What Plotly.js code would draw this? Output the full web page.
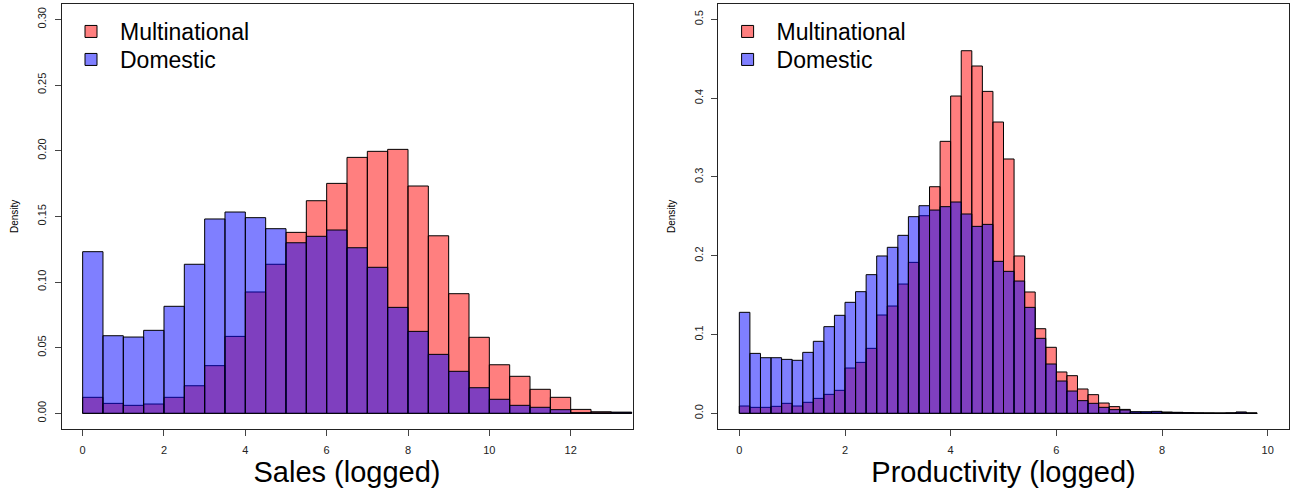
<!DOCTYPE html>
<html><head><meta charset="utf-8">
<script src="https://cdn.plot.ly/plotly-3.0.1.min.js"></script>
<style>html,body{margin:0;padding:0;background:#fff}#chart{width:1291px;height:491px}</style>
</head><body><div id="chart"></div>
<script>
// Sales (logged): bin centres, bin width 0.5
const salesBins = [0.25,0.75,1.25,1.75,2.25,2.75,3.25,3.75,4.25,4.75,5.25,5.75,6.25,6.75,7.25,7.75,8.25,8.75,9.25,9.75,10.25,10.75,11.25,11.75,12.25,12.75,13.25];
const salesMultinational = [0.0122,0.0076,0.0061,0.0071,0.0122,0.0210,0.0363,0.0586,0.0924,0.1135,0.1378,0.1619,0.1751,0.1949,0.1995,0.2010,0.1731,0.1352,0.0911,0.0579,0.0370,0.0282,0.0183,0.0122,0.0030,0.0012,0.0008];
const salesDomestic = [0.1231,0.0591,0.0581,0.0632,0.0815,0.1135,0.1480,0.1533,0.1490,0.1406,0.1299,0.1348,0.1396,0.1261,0.1112,0.0807,0.0624,0.0449,0.0320,0.0195,0.0107,0.0061,0.0046,0.0028,0.0005,0.0004,0.0008];

// Productivity (logged): bin centres, bin width 0.2
const prodBins = [0.1,0.3,0.5,0.7,0.9,1.1,1.3,1.5,1.7,1.9,2.1,2.3,2.5,2.7,2.9,3.1,3.3,3.5,3.7,3.9,4.1,4.3,4.5,4.7,4.9,5.1,5.3,5.5,5.7,5.9,6.1,6.3,6.5,6.7,6.9,7.1,7.3,7.5,7.7,7.9,8.1,8.3,8.5,8.7,8.9,9.1,9.3,9.5,9.7];
const prodMultinational = [0.0093,0.0076,0.0076,0.0089,0.0127,0.0093,0.0140,0.0190,0.0241,0.0292,0.0575,0.0647,0.0825,0.1248,0.1362,0.1641,0.1916,0.2508,0.2876,0.3452,0.4027,0.4602,0.4408,0.4086,0.3697,0.3228,0.1997,0.1540,0.1074,0.0838,0.0525,0.0478,0.0309,0.0237,0.0131,0.0085,0.0050,0.0015,0.0012,0.0015,0.0017,0.0012,0.0008,0.0005,0.0004,0.0003,0.0005,0.0015,0.0004];
const prodDomestic = [0.1282,0.0761,0.0706,0.0706,0.0685,0.0673,0.0774,0.0914,0.1100,0.1244,0.1409,0.1544,0.1760,0.1997,0.2107,0.2259,0.2496,0.2635,0.2580,0.2623,0.2682,0.2530,0.2373,0.2398,0.1929,0.1802,0.1679,0.1345,0.0952,0.0626,0.0410,0.0283,0.0161,0.0127,0.0076,0.0047,0.0042,0.0021,0.0021,0.0025,0.0010,0.0012,0.0008,0.0005,0.0004,0.0003,0.0005,0.0015,0.0004];

const salesTicks = [0,2,4,6,8,10,12];
const prodTicks = [0,2,4,6,8,10];
const salesYTicks = [0,0.05,0.10,0.15,0.20,0.25,0.30];
const salesYLabels = ['0.00','0.05','0.10','0.15','0.20','0.25','0.30'];
const prodYTicks = [0,0.1,0.2,0.3,0.4,0.5];
const prodYLabels = ['0.0','0.1','0.2','0.3','0.4','0.5'];

const RED = 'rgba(255,0,0,0.5)', BLUE = 'rgba(0,0,255,0.5)';
const line = {color:'#000', width:1};
const traces = [
  {type:'bar', x:salesBins, y:salesMultinational, width:0.5, name:'Multinational', marker:{color:RED, line:line}, xaxis:'x', yaxis:'y', legend:'legend'},
  {type:'bar', x:salesBins, y:salesDomestic, width:0.5, name:'Domestic', marker:{color:BLUE, line:line}, xaxis:'x', yaxis:'y', legend:'legend2'},
  {type:'bar', x:prodBins, y:prodMultinational, width:0.2, name:'Multinational', marker:{color:RED, line:line}, xaxis:'x2', yaxis:'y2', legend:'legend3'},
  {type:'bar', x:prodBins, y:prodDomestic, width:0.2, name:'Domestic', marker:{color:BLUE, line:line}, xaxis:'x2', yaxis:'y2', legend:'legend4'}
];

const W = 1291, H = 491;
const FONT = 'Liberation Sans, Arial, sans-serif';
const ydom = [1-429.1/H, 1-3.6/H];
function xax(dom, range, ticks, title){
  return {domain:dom, range:range, tickmode:'array', tickvals:ticks, ticks:'outside', ticklen:6, tickcolor:'#444',
    showline:true, mirror:true, linecolor:'#222', linewidth:1, zeroline:false, showgrid:false, ticklabelstandoff:5,
    tickfont:{size:11, color:'#222'}, title:{text:title, font:{size:29, color:'#000'}, standoff:0}, automargin:false, fixedrange:true};
}
function yax(anchor, range, ticks, labels){
  return {domain:ydom, anchor:anchor, range:range, tickmode:'array', tickvals:ticks, ticktext:labels, tickangle:-90, ticks:'outside', ticklen:6, tickcolor:'#444',
    showline:true, mirror:true, linecolor:'#222', linewidth:1, zeroline:false, showgrid:false, ticklabelstandoff:4,
    tickfont:{size:11, color:'#222'}, title:{text:'Density', font:{size:10, color:'#000'}, standoff:15}, automargin:false, fixedrange:true};
}
function leg(xpx, topPx){
  return {x:xpx/W, y:1-topPx/H, xanchor:'left', yanchor:'top', bgcolor:'rgba(0,0,0,0)', borderwidth:0, itemwidth:48, font:{size:23, color:'#000'}};
}
const layout = {
  width:W, height:H, margin:{l:0,r:0,t:0,b:0}, paper_bgcolor:'#fff', plot_bgcolor:'#fff',
  font:{family:FONT, color:'#000'}, barmode:'overlay', bargap:0,
  xaxis: Object.assign(xax([61.5/W, 632.5/W], [-0.52,13.52], salesTicks, 'Sales (logged)'), {anchor:'y'}),
  yaxis: yax('x', [-0.012,0.312], salesYTicks, salesYLabels),
  xaxis2: Object.assign(xax([718.2/W, 1288.8/W], [-0.4,10.4], prodTicks, 'Productivity (logged)'), {anchor:'y2'}),
  yaxis2: yax('x2', [-0.02,0.52], prodYTicks, prodYLabels),
  legend: leg(62, 10),
  legend2: leg(62, 38),
  legend3: leg(718.6, 10),
  legend4: leg(718.6, 38),
  showlegend:true
};
Plotly.newPlot('chart', traces, layout, {displayModeBar:false, staticPlot:true});
</script>
</body></html>
